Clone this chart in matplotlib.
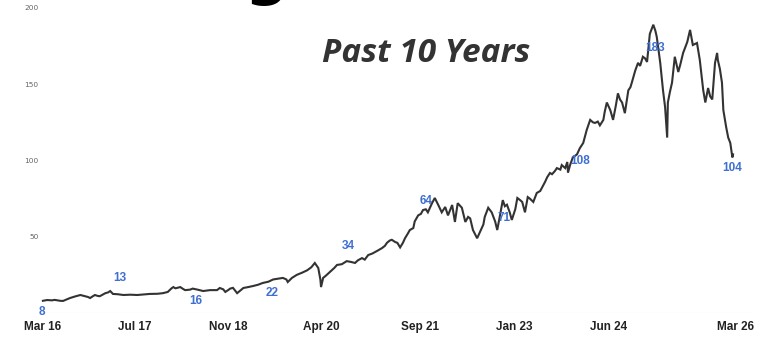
import matplotlib
matplotlib.use("Agg")
import matplotlib.pyplot as plt

# price history, x in decimal years
years = [
    2016.18, 2016.24, 2016.31, 2016.35, 2016.43, 2016.47, 2016.53, 2016.57, 2016.64, 2016.72,
    2016.79, 2016.83, 2016.86, 2016.90, 2016.93, 2016.97, 2017.00, 2017.08, 2017.12, 2017.15,
    2017.19, 2017.26, 2017.34, 2017.44, 2017.54, 2017.64, 2017.72, 2017.83, 2017.91, 2017.98,
    2018.03, 2018.06, 2018.09, 2018.11, 2018.16, 2018.20, 2018.23, 2018.30, 2018.34, 2018.42,
    2018.49, 2018.59, 2018.69, 2018.73, 2018.78, 2018.81, 2018.85, 2018.88, 2018.92, 2018.98,
    2019.02, 2019.07, 2019.14, 2019.21, 2019.28, 2019.35, 2019.43, 2019.50, 2019.57, 2019.64,
    2019.69, 2019.71, 2019.77, 2019.84, 2019.92, 2019.99, 2020.05, 2020.10, 2020.15, 2020.18,
    2020.19, 2020.22, 2020.26, 2020.32, 2020.38, 2020.42, 2020.49, 2020.56, 2020.62, 2020.68,
    2020.72, 2020.78, 2020.82, 2020.87, 2020.93, 2020.97, 2021.01, 2021.07, 2021.11, 2021.14,
    2021.18, 2021.21, 2021.26, 2021.29, 2021.33, 2021.37, 2021.40, 2021.44, 2021.47, 2021.52,
    2021.54, 2021.59, 2021.63, 2021.66, 2021.70, 2021.73, 2021.79, 2021.83, 2021.88, 2021.93,
    2021.98, 2022.02, 2022.08, 2022.12, 2022.16, 2022.22, 2022.27, 2022.31, 2022.34, 2022.38,
    2022.44, 2022.48, 2022.53, 2022.55, 2022.60, 2022.65, 2022.70, 2022.73, 2022.77, 2022.81,
    2022.84, 2022.87, 2022.91, 2022.94, 2022.99, 2023.02, 2023.06, 2023.09, 2023.13, 2023.17,
    2023.20, 2023.25, 2023.30, 2023.35, 2023.38, 2023.42, 2023.45, 2023.49, 2023.52, 2023.56,
    2023.59, 2023.64, 2023.66, 2023.71, 2023.74, 2023.75, 2023.78, 2023.82, 2023.88, 2023.92,
    2023.97, 2024.02, 2024.07, 2024.11, 2024.14, 2024.18, 2024.21, 2024.26, 2024.28, 2024.31,
    2024.36, 2024.40, 2024.44, 2024.47, 2024.50, 2024.53, 2024.57, 2024.62, 2024.65, 2024.67,
    2024.72, 2024.76, 2024.79, 2024.83, 2024.86, 2024.89, 2024.93, 2024.98, 2025.01, 2025.03,
    2025.08, 2025.12, 2025.15, 2025.18, 2025.19, 2025.22, 2025.25, 2025.29, 2025.34, 2025.37,
    2025.41, 2025.47, 2025.51, 2025.55, 2025.61, 2025.65, 2025.70, 2025.73, 2025.77, 2025.80,
    2025.83, 2025.87, 2025.90, 2025.91, 2025.94, 2025.97, 2025.99, 2026.03, 2026.06, 2026.09,
    2026.12, 2026.13,
]
price = [
    8.0, 8.5, 8.3, 8.6, 8.0, 7.9, 9.0, 9.8, 10.8, 11.8,
    11.0, 10.5, 9.8, 11.0, 11.8, 11.2, 11.0, 13.0, 13.5, 14.4,
    12.5, 12.3, 11.8, 12.0, 11.8, 12.2, 12.5, 12.6, 13.0, 13.8,
    16.0, 17.0, 16.2, 16.4, 17.0, 15.8, 15.0, 15.3, 16.0, 15.2,
    14.4, 15.0, 15.0, 16.4, 15.5, 13.8, 15.0, 16.0, 16.5, 13.0,
    14.5, 16.4, 17.0, 17.7, 18.5, 19.7, 20.5, 22.0, 22.5, 23.0,
    22.0, 20.3, 23.0, 25.0, 26.5, 28.0, 30.0, 32.8, 29.5, 22.0,
    17.0, 23.0, 24.5, 27.0, 29.5, 31.5, 32.0, 34.0, 33.5, 32.8,
    34.5, 36.0, 35.0, 38.0, 39.0, 40.0, 41.0, 42.6, 44.0, 46.0,
    47.5, 48.0, 46.5, 46.0, 43.0, 46.0, 49.0, 52.0, 54.4, 55.7,
    60.0, 64.0, 65.0, 67.5, 68.0, 66.0, 72.0, 75.4, 70.8, 66.0,
    69.5, 64.0, 70.8, 59.7, 72.0, 69.0, 59.7, 63.0, 62.0, 54.4,
    49.0, 53.0, 58.0, 63.0, 69.0, 66.0, 60.0, 54.4, 64.0, 74.0,
    70.0, 71.0, 66.0, 61.0, 68.0, 75.4, 74.0, 72.8, 66.0, 76.0,
    75.0, 72.8, 78.7, 80.0, 82.6, 86.0, 89.0, 91.8, 91.0, 93.0,
    95.0, 94.0, 97.0, 95.0, 99.0, 92.0, 97.0, 102.0, 104.0, 108.0,
    111.5, 120.0, 126.6, 125.0, 124.6, 125.5, 123.0, 126.6, 132.0, 138.0,
    133.0, 126.6, 136.0, 144.0, 140.0, 138.0, 131.0, 146.0, 148.0, 151.0,
    159.0, 164.0, 162.0, 168.0, 167.0, 164.6, 183.0, 189.0, 185.0, 181.0,
    164.0, 146.0, 135.0, 115.0, 138.0, 145.0, 151.0, 168.0, 158.0, 163.0,
    170.5, 177.7, 185.6, 175.7, 177.0, 166.0, 146.0, 138.0, 147.5, 142.0,
    140.0, 164.0, 170.5, 166.0, 160.0, 151.0, 133.0, 122.0, 115.0, 111.5,
    102.0, 104.0,
]

tick_years = [2016.17, 2017.51, 2018.85, 2020.20, 2021.62, 2022.97, 2024.34, 2026.16]
tick_labels = ["Mar 16", "Jul 17", "Nov 18", "Apr 20", "Sep 21", "Jan 23", "Jun 24", "Mar 26"]
y_ticks = [50, 100, 150, 200]

# price callouts
label_years = [2016.18, 2017.08, 2018.34, 2019.50, 2020.56, 2021.59, 2022.87, 2023.92, 2024.93, 2026.13]
label_values = [8, 13, 16, 22, 34, 64, 71, 108, 183, 104]
# text offset from the point, in pixels
label_offsets = [(-1, -11), (14, 15), (3, -12), (-1, -14), (2, 15),
                 (8, 14), (-3, -13), (0, -13), (5, -14), (-1, -14)]

fig = plt.figure(figsize=(7.6, 3.54), dpi=100)
fig.patch.set_facecolor("white")
ax = fig.add_axes([40 / 760, 41 / 354, 712 / 760, 313 / 354])

ax.plot(years, price, color="#333333", lw=1.5, solid_joinstyle="miter")
ax.axhline(0, color="#e6e6e6", lw=0.8, zorder=0)

for yr, val, (dx, dy) in zip(label_years, label_values, label_offsets):
    ax.annotate(str(val), (yr, val), xytext=(dx, dy), textcoords="offset pixels",
                ha="center", va="center", fontsize=8.5, fontweight="bold",
                color="#3f6fd1", family="Liberation Sans")

ax.set_xlim(2016.138, 2026.403)
ax.set_ylim(0, 205.2)
ax.set_xticks(tick_years)
ax.set_xticklabels(tick_labels, fontsize=8.5, fontweight="bold", color="#222222",
                   family="Liberation Sans")
ax.set_yticks(y_ticks)
ax.set_yticklabels([str(v) for v in y_ticks], fontsize=5.3, color="#666666")
ax.tick_params(axis="both", length=0)
ax.tick_params(axis="x", pad=6)
ax.tick_params(axis="y", pad=1)
for s in ax.spines.values():
    s.set_visible(False)
ax.patch.set_alpha(0)

# big heading above, only its descender is left in view
fig.text(266 / 760, 1 + 7 / 354, "g", fontsize=44, fontweight="bold",
         family="DejaVu Sans", ha="center", va="baseline", color="black")
fig.text(426 / 760, 1 - 62 / 354, "Past 10 Years", fontsize=24, fontweight="bold",
         fontstyle="italic", family="Open Sans", ha="center", va="baseline",
         color="#333333")

fig.savefig("out.png", dpi=100)
